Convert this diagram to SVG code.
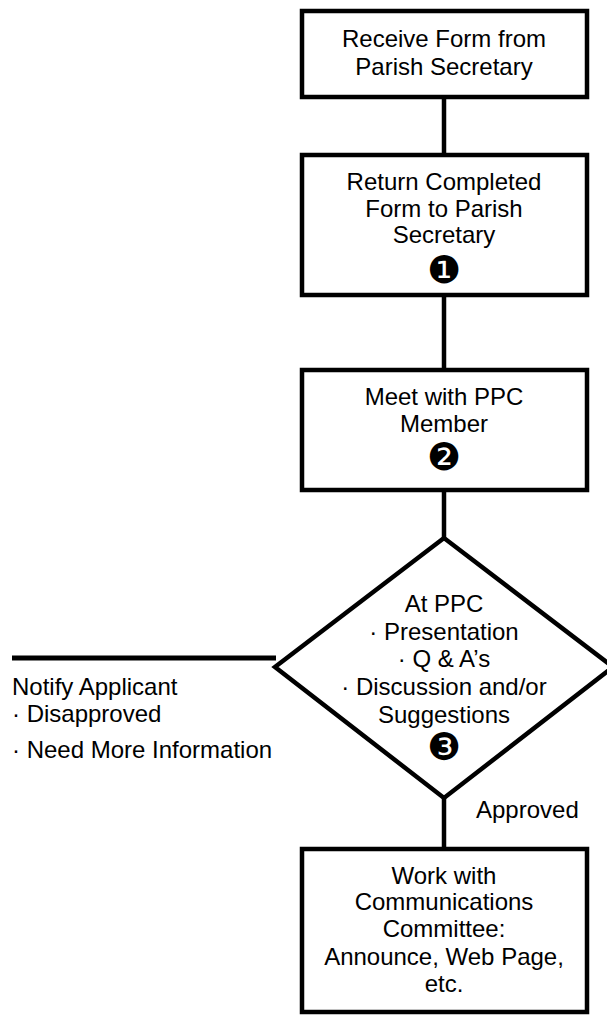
<svg xmlns="http://www.w3.org/2000/svg" width="607" height="1017" viewBox="0 0 607 1017">
<style>
.box{fill:#fff;stroke:#000;stroke-width:4.5}
.t{font-family:"Liberation Sans",Arial,sans-serif;font-size:24px;fill:#000}
.c{text-anchor:middle}
.num{font-family:"DejaVu Sans",sans-serif;font-size:38px;fill:#000;text-anchor:middle}
.ln{stroke:#000;stroke-width:4.5;fill:none}
</style>
<rect width="607" height="1017" fill="#fff"/>
<g id="connectors">
<line class="ln" x1="444" y1="97" x2="444" y2="155"/>
<line class="ln" x1="444" y1="295" x2="444" y2="370"/>
<line class="ln" x1="444" y1="490" x2="444" y2="538"/>
<line class="ln" x1="444" y1="798" x2="444" y2="849"/>
<line class="ln" x1="12" y1="658" x2="276" y2="658" style="stroke-width:5"/>
</g>
<g id="receive">
<rect class="box" x="302" y="11" width="285" height="86"/>
<text class="t c" x="444" y="47">Receive Form from</text>
<text class="t c" x="444" y="75">Parish Secretary</text>
</g>
<g id="return">
<rect class="box" x="302" y="155" width="285" height="140"/>
<text class="t c" x="444" y="190">Return Completed</text>
<text class="t c" x="444" y="217">Form to Parish</text>
<text class="t c" x="444" y="243">Secretary</text>
<text class="num" x="444" y="283">❶</text>
</g>
<g id="meet">
<rect class="box" x="302" y="370" width="285" height="120"/>
<text class="t c" x="444" y="405">Meet with PPC</text>
<text class="t c" x="444" y="432">Member</text>
<text class="num" x="444" y="470">❷</text>
</g>
<g id="decision">
<polygon class="box" points="444,538 275,667 444,798 613,667"/>
<text class="t c" x="444" y="612">At PPC</text>
<text class="t c" x="444" y="640">· Presentation</text>
<text class="t c" x="444" y="667">· Q &amp; A’s</text>
<text class="t c" x="444" y="695">· Discussion and/or</text>
<text class="t c" x="444" y="723">Suggestions</text>
<text class="num" x="444" y="760">❸</text>
</g>
<g id="notify">
<text class="t" x="12" y="695">Notify Applicant</text>
<text class="t" x="12" y="722">· Disapproved</text>
<text class="t" x="12" y="758">· Need More Information</text>
</g>
<g id="approved-label">
<text class="t" x="476" y="818">Approved</text>
</g>
<g id="work">
<rect class="box" x="302" y="849" width="285" height="163"/>
<text class="t c" x="444" y="884">Work with</text>
<text class="t c" x="444" y="910">Communications</text>
<text class="t c" x="444" y="937">Committee:</text>
<text class="t c" x="444" y="965">Announce, Web Page,</text>
<text class="t c" x="444" y="992">etc.</text>
</g>
</svg>
